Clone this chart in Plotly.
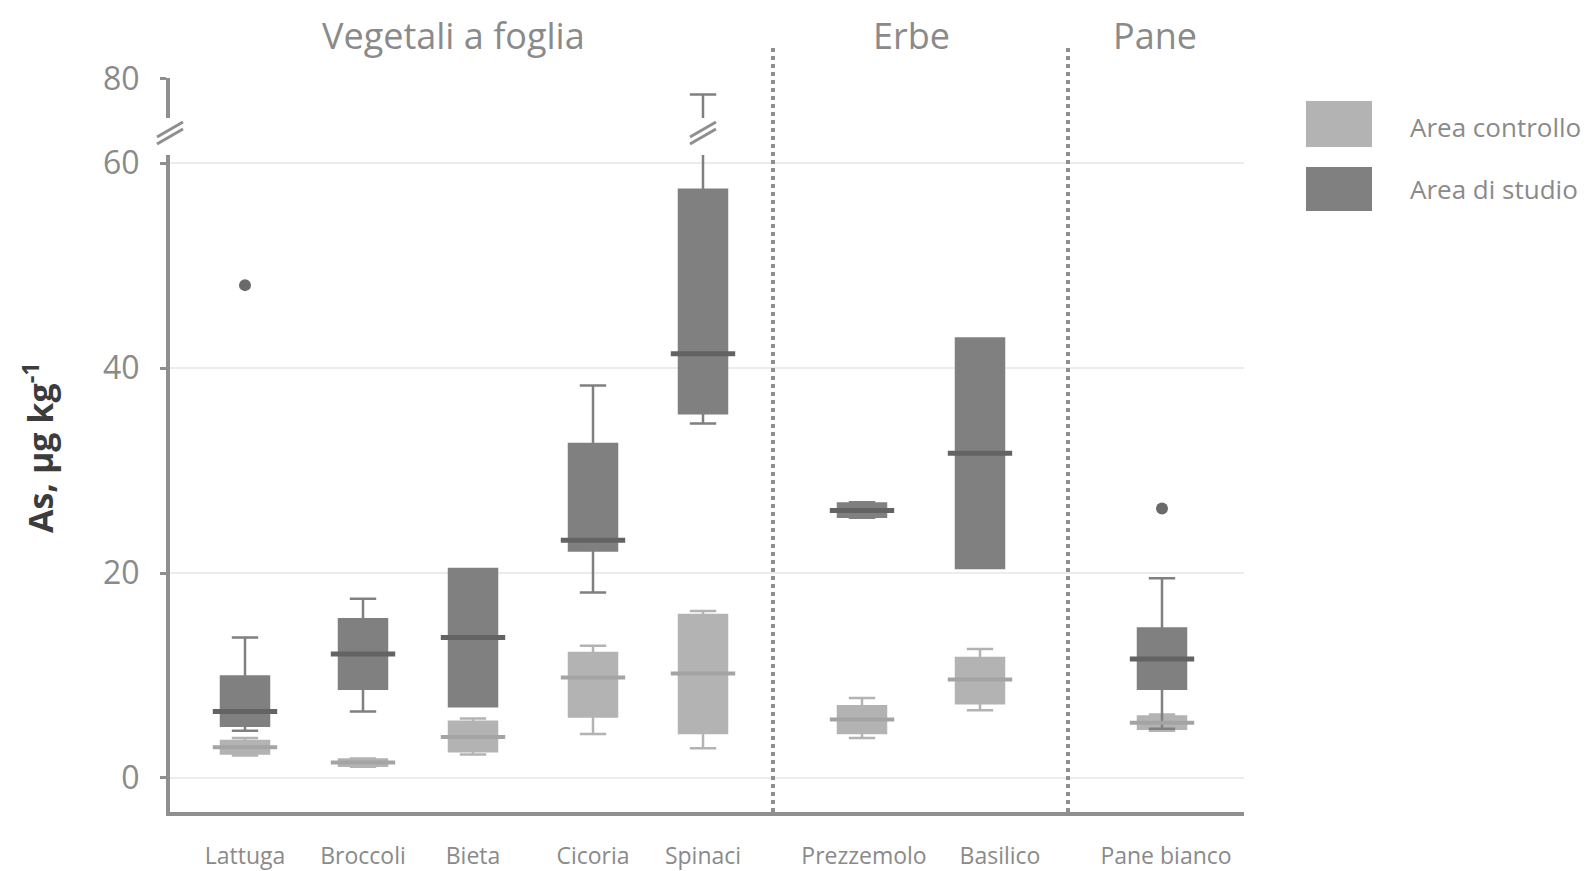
import plotly.graph_objects as go

# ---------------- data ----------------
categories = ["Lattuga", "Broccoli", "Bieta", "Cicoria", "Spinaci",
              "Prezzemolo", "Basilico", "Pane bianco"]
groups = ["Vegetali a foglia", "Erbe", "Pane"]
series_names = ["Area controllo", "Area di studio"]

ctrl_low = [2.2, 1.1, 2.3, 4.3, 2.9, 3.9, 6.6, 4.6]
ctrl_q1 = [2.4, 1.2, 2.6, 6.0, 4.4, 4.4, 7.3, 4.8]
ctrl_med = [3.0, 1.5, 4.0, 9.8, 10.2, 5.7, 9.6, 5.4]
ctrl_q3 = [3.6, 1.8, 5.5, 12.2, 15.9, 7.0, 11.7, 6.0]
ctrl_high = [3.9, 1.9, 5.8, 12.9, 16.3, 7.8, 12.6, 6.2]

stud_low = [4.6, 6.5, 7.0, 18.1, 34.6, 25.4, 20.5, 4.8]
stud_q1 = [5.1, 8.7, 7.0, 22.2, 35.6, 25.5, 20.5, 8.7]
stud_med = [6.5, 12.1, 13.7, 23.2, 41.4, 26.1, 31.7, 11.6]
stud_q3 = [9.9, 15.5, 20.4, 32.6, 57.4, 26.8, 42.9, 14.6]
stud_high = [13.7, 17.5, 20.4, 38.3, 76.0, 26.9, 42.9, 19.5]

outlier_cats = ["Lattuga", "Pane bianco"]
outlier_vals = [48.1, 26.3]

y_ticks_low = [0, 20, 40, 60]
y_ticks_high = [80]

# ---------------- layout constants (pixels) ----------------
W, H = 1588, 871
PL, PR = 170, 1244          # plot area left / right
PT, PB = 78, 812            # plot area top / bottom
LOW_TOP = 155               # top of lower y segment
UP_BOT = 118                # bottom of upper y segment
cat_px = [245, 363, 473, 593, 703, 862, 980, 1162]
label_px = [245, 363, 473, 593, 703, 864, 1000, 1166]
divider_px = [773, 1068]
group_px = [453, 911, 1155]

def xp(px):
    return (px - PL) / (PR - PL)

def yp(py):
    return (PB - py) / (PB - PT)

pos = {c: p - PL for c, p in zip(categories, cat_px)}
xs = [pos[c] for c in categories]
label_x = [p - PL for p in label_px]

C_CTRL = "#b3b3b3"
C_STUD = "#808080"
C_CTRL_MED = "#a4a4a4"
C_STUD_MED = "#636363"
AX = "#8f8f8f"
TXT = "#8a8a8a"
FONT = "Open Sans"

fig = go.Figure()

def add_box(q1, med, q3, lo, hi, color, yaxis):
    fig.add_trace(go.Box(
        x=xs, q1=q1, median=med, q3=q3, lowerfence=lo, upperfence=hi,
        width=48, whiskerwidth=0.55, fillcolor=color,
        line=dict(color=color, width=2.5), boxpoints=False,
        showlegend=False, hoverinfo="skip", yaxis=yaxis, xaxis="x"))

for ya in ["y", "y2"]:
    add_box(ctrl_q1, ctrl_med, ctrl_q3, ctrl_low, ctrl_high, C_CTRL, ya)
    add_box(stud_q1, stud_med, stud_q3, stud_low, stud_high, C_STUD, ya)

# medians
fig.add_trace(go.Scatter(x=xs, y=ctrl_med, mode="markers", showlegend=False,
                         hoverinfo="skip",
                         marker=dict(symbol="line-ew", size=46,
                                     line=dict(color=C_CTRL_MED, width=4))))
fig.add_trace(go.Scatter(x=xs, y=stud_med, mode="markers", showlegend=False,
                         hoverinfo="skip",
                         marker=dict(symbol="line-ew", size=46,
                                     line=dict(color=C_STUD_MED, width=5))))
# outliers
fig.add_trace(go.Scatter(x=[pos[c] for c in outlier_cats], y=outlier_vals,
                         mode="markers", showlegend=False, hoverinfo="skip",
                         marker=dict(symbol="circle", size=12, color="#6a6a6a")))

shapes = []
# dotted group dividers
for d in divider_px:
    shapes.append(dict(type="line", xref="paper", yref="paper",
                       x0=xp(d), x1=xp(d), y0=0, y1=yp(46),
                       line=dict(color=AX, width=4, dash="dot")))
# axis break marks on y axis and on Spinaci whisker
for cx in [PL, cat_px[4]]:
    for dy in [0, 7]:
        shapes.append(dict(type="line", xref="paper", yref="paper",
                           x0=xp(cx - 13), y0=yp(137 + dy),
                           x1=xp(cx + 13), y1=yp(122 + dy),
                           line=dict(color=AX, width=3)))
# custom legend swatches
for (t, b), col in zip([(101, 147), (167, 211)], [C_CTRL, C_STUD]):
    shapes.append(dict(type="rect", xref="paper", yref="paper",
                       x0=xp(1306), x1=xp(1372), y0=yp(b), y1=yp(t),
                       fillcolor=col, line=dict(width=0)))

annotations = []
for g, gx in zip(groups, group_px):
    annotations.append(dict(text=g, xref="paper", yref="paper", x=xp(gx), y=yp(36),
                            xanchor="center", yanchor="middle", showarrow=False,
                            font=dict(family=FONT, size=36, color=TXT)))
for name, ty in zip(series_names, [127, 189]):
    annotations.append(dict(text=name, xref="paper", yref="paper", x=xp(1408), y=yp(ty),
                            xanchor="left", yanchor="middle", showarrow=False,
                            font=dict(family=FONT, size=26, color=TXT)))
annotations.append(dict(text="<b>As, µg kg<sup>-1</sup></b>", xref="paper", yref="paper",
                        x=xp(38), y=yp(448), xanchor="center", yanchor="middle",
                        textangle=-90, showarrow=False,
                        font=dict(family=FONT, size=34, color="#3c3c3c")))

fig.update_layout(
    width=W, height=H,
    margin=dict(l=PL, r=W - PR, t=PT, b=H - PB, pad=0, autoexpand=False),
    plot_bgcolor="white", paper_bgcolor="white",
    boxmode="overlay", showlegend=False,
    shapes=shapes, annotations=annotations,
    xaxis=dict(range=[0, PR - PL], tickvals=label_x, ticktext=categories,
               showgrid=False, zeroline=False, showline=True, automargin=False,
               linecolor=AX, linewidth=4, ticks="", ticklabelstandoff=20,
               tickfont=dict(family=FONT, size=23, color=TXT), anchor="y"),
    yaxis=dict(domain=[0, yp(LOW_TOP)], range=[-3.32, 60.8], automargin=False,
               tickvals=y_ticks_low, showgrid=True, gridcolor="#ececec", gridwidth=2,
               zeroline=False, showline=True, linecolor=AX, linewidth=4,
               ticks="outside", ticklen=6, tickwidth=3, tickcolor=AX,
               ticklabelstandoff=14,
               tickfont=dict(family=FONT, size=32, color=TXT), anchor="x"),
    yaxis2=dict(domain=[yp(UP_BOT), 1], range=[70, 80.2], automargin=False,
                tickvals=y_ticks_high, showgrid=True, gridcolor="#ececec", gridwidth=2,
                zeroline=False, showline=True, linecolor=AX, linewidth=4,
                ticks="outside", ticklen=6, tickwidth=3, tickcolor=AX,
                ticklabelstandoff=14,
                tickfont=dict(family=FONT, size=32, color=TXT), anchor="x"),
)

fig.write_html("out.html", config={"displayModeBar": False},
               post_script="document.body.style.margin='0';")
